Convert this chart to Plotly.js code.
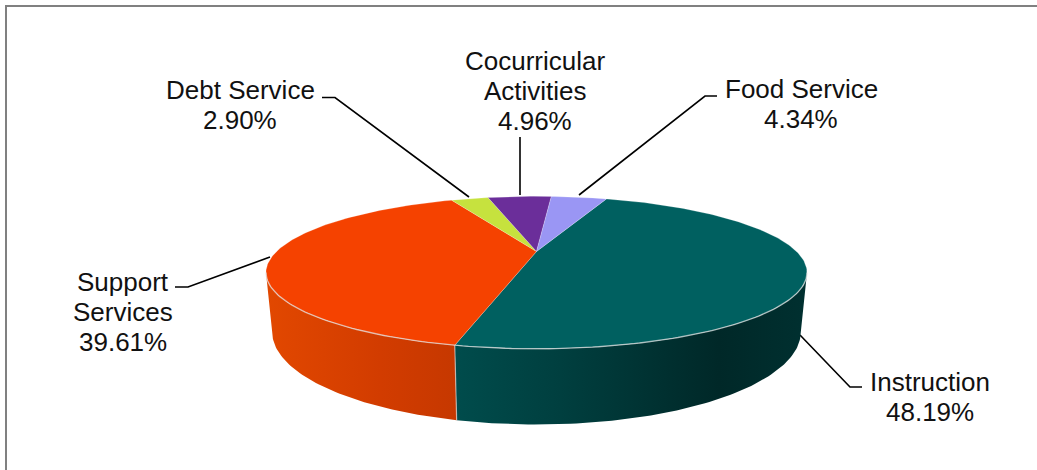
<!DOCTYPE html>
<html>
<head>
<meta charset="utf-8">
<script src="https://cdn.plot.ly/plotly-3.0.1.min.js"></script>
<style>html,body{margin:0;padding:0;background:#fff}#chart{width:1037px;height:470px}</style>
</head>
<body>
<div id="chart"></div>
<script>
// Expenditure shares, clockwise from the first slice
const categories = ["Instruction", "Support Services", "Debt Service", "Cocurricular Activities", "Food Service"];
const shares = [48.19, 39.61, 2.90, 4.96, 4.34];
const labelNames = [["Instruction"], ["Support", "Services"], ["Debt Service"], ["Cocurricular", "Activities"], ["Food Service"]];

// Slice styling
const topColors = ["#006060", "#F54200", "#C6E23E", "#6B2E9A", "#9A96F4"];
const wallScales = [
  [[0, "#004C4C"], [0.3, "#003F3F"], [0.75, "#002828"], [1, "#003030"]],
  [[0, "#E24800"], [0.6, "#D23C00"], [1, "#C63800"]],
  null, null, null
];

// Label placement: centre x, first line y, and the leader polyline
const labelX = [929.5, 123, 240, 535, 801];
const labelY = [381.5, 281.5, 90, 61, 89];
const lineStep = 30;
const leaderX = [[862, 850, 800], [175, 188, 270], [322, 335, 469], [520, 520], [717, 705, 579]];
const leaderY = [[387, 387, 335], [287, 287, 257], [97.5, 97.5, 197], [137, 195], [96, 96, 195]];

// Projection of the disc: a circle seen in perspective
const apexX = 536.5, apexY = 251.5, scaleX = 260, scaleY = 70.4, persp = 0.2763;
const wallDepth = 54.8, wallShrink = 0.977, startDeg = 19.8;

function topPoint(deg) {
  const r = deg * Math.PI / 180, u = Math.sin(r), v = Math.cos(r), w = 1 + persp * v;
  return [apexX + scaleX * u / w, apexY - scaleY * v / w];
}
function bottomPoint(deg) {
  const r = deg * Math.PI / 180, v = Math.cos(r), w = 1 + persp * v, p = topPoint(deg);
  return [apexX + (p[0] - apexX) * wallShrink, p[1] + wallDepth / w];
}
function arc(from, to, fn) {
  const pts = [], n = Math.max(2, Math.ceil(Math.abs(to - from)));
  for (let i = 0; i <= n; i++) pts.push(fn(from + (to - from) * i / n));
  return pts;
}

// Slice boundaries in degrees, derived from the shares
const bounds = [startDeg];
shares.forEach(s => bounds.push(bounds[bounds.length - 1] + s * 3.6));

// The rim faces the viewer between the two widest points of the projected ellipse
const widest = Math.acos(-persp) * 180 / Math.PI;
const wallVisible = [widest, 360 - widest];
const walls = [], tops = [], rims = [];

shares.forEach((s, i) => {
  const a = bounds[i], b = bounds[i + 1];
  const wa = Math.max(a, wallVisible[0]), wb = Math.min(b, wallVisible[1]);
  if (wb > wa && wallScales[i]) {
    const pts = arc(wa, wb, topPoint).concat(arc(wb, wa, bottomPoint));
    pts.push(pts[0]);
    walls.push({
      type: "scatter", mode: "lines", fill: "toself",
      x: pts.map(p => p[0]), y: pts.map(p => p[1]),
      line: { width: 0 },
      fillgradient: { type: "horizontal", colorscale: wallScales[i] },
      hoverinfo: "skip", showlegend: false
    });
  }
  // Upper face of the slice
  const face = [[apexX, apexY]].concat(arc(a, b, topPoint));
  face.push(face[0]);
  tops.push({
    type: "scatter", mode: "lines", fill: "toself", name: categories[i],
    x: face.map(p => p[0]), y: face.map(p => p[1]),
    fillcolor: topColors[i],
    line: { width: 0.6, color: "rgba(255,255,255,0.35)" },
    hoverinfo: "name", showlegend: false
  });
});

// Bevel highlight along the front rim and at the seam between the two walls
const rimPts = arc(wallVisible[0], wallVisible[1], topPoint);
rims.push({
  type: "scatter", mode: "lines",
  x: rimPts.map(p => p[0]), y: rimPts.map(p => p[1]),
  line: { width: 1.4, color: "rgba(225,225,225,0.65)" },
  hoverinfo: "skip", showlegend: false
});
const seam = [topPoint(bounds[1]), bottomPoint(bounds[1])];
rims.push({
  type: "scatter", mode: "lines",
  x: seam.map(p => p[0]), y: seam.map(p => p[1]),
  line: { width: 1.2, color: "rgba(225,225,225,0.6)" },
  hoverinfo: "skip", showlegend: false
});

// Leader lines from each label to its slice
const leaders = leaderX.map((xs, i) => ({
  type: "scatter", mode: "lines", x: xs, y: leaderY[i],
  line: { width: 1.6, color: "#000" }, hoverinfo: "skip", showlegend: false
}));

// One annotation per text line keeps the line spacing tight
const annotations = [];
labelNames.forEach((lines, i) => {
  lines.concat([shares[i].toFixed(2) + "%"]).forEach((t, j) => {
    annotations.push({
      x: labelX[i], y: labelY[i] + j * lineStep, xref: "x", yref: "y",
      text: t, showarrow: false, xanchor: "center", yanchor: "middle",
      font: { family: "Liberation Sans, Arial, sans-serif", size: 26, color: "#111" }
    });
  });
});

const frameColor = "#808080";
const layout = {
  width: 1037, height: 470,
  margin: { l: 0, r: 0, t: 0, b: 0 },
  paper_bgcolor: "#fff", plot_bgcolor: "#fff",
  xaxis: { range: [0, 1037], visible: false, fixedrange: true },
  yaxis: { range: [470, 0], visible: false, fixedrange: true },
  showlegend: false,
  annotations: annotations,
  shapes: [
    { type: "line", xref: "x", yref: "y", x0: 5, x1: 1037, y0: 6, y1: 6, line: { color: frameColor, width: 2 } },
    { type: "line", xref: "x", yref: "y", x0: 6, x1: 6, y0: 5, y1: 470, line: { color: frameColor, width: 2 } }
  ]
};

Plotly.newPlot("chart", leaders.concat(walls, tops, rims), layout, { displayModeBar: false, staticPlot: true });
</script>
</body>
</html>
